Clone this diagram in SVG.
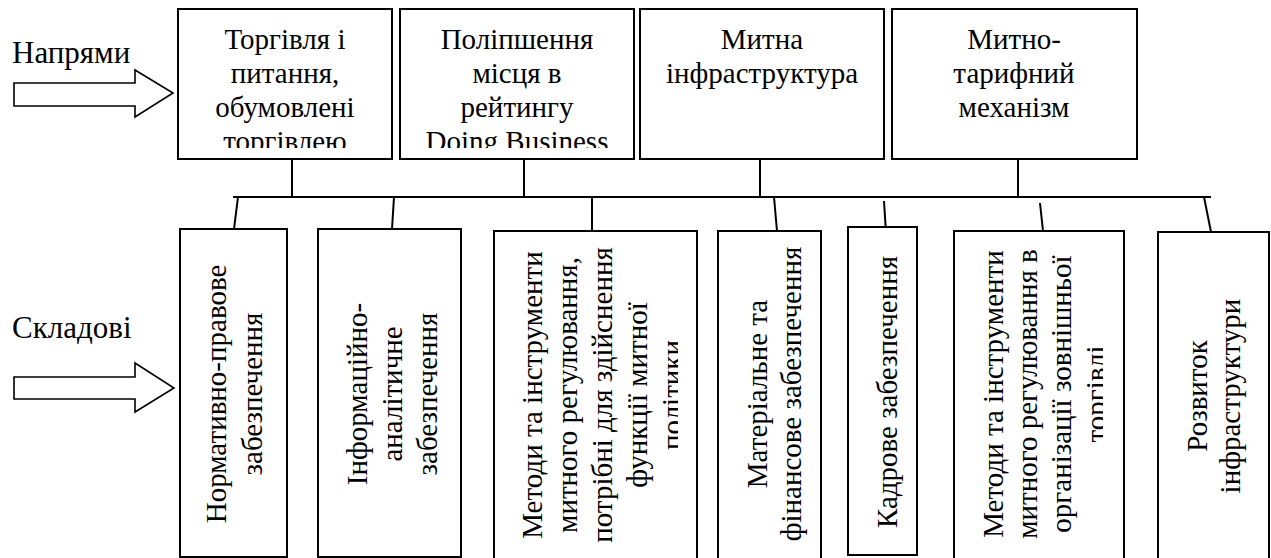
<svg xmlns="http://www.w3.org/2000/svg" width="1271" height="558" viewBox="0 0 1271 558">
<style>
.box{fill:#fff;stroke:#000;stroke-width:2}
.t{font-family:"Liberation Serif","Times New Roman",serif;font-size:29px;fill:#000;text-anchor:middle}
.lbl{font-family:"Liberation Serif","Times New Roman",serif;font-size:31px;fill:#000}
.c{stroke:#000;stroke-width:2;fill:none}
.arr{fill:#fff;stroke:#000;stroke-width:1.6;stroke-linejoin:miter}
</style>
<defs>
<clipPath id="clipTop"><rect x="0" y="0" width="1271" height="148"/></clipPath>
<clipPath id="clipB3"><rect x="494" y="231" width="184" height="330"/></clipPath>
<clipPath id="clipB6"><rect x="954" y="231" width="149" height="330"/></clipPath>
</defs>
<rect width="1271" height="558" fill="#fff"/>

<g id="label-napriamy">
<text class="lbl" x="12" y="63">Напрями</text>
<polygon class="arr" points="14,83 135,83 135,70 173,93 135,117 135,106 14,106"/>
</g>
<g id="label-skladovi">
<text class="lbl" x="12" y="338">Складові</text>
<polygon class="arr" points="14,377 135,377 135,363 174,388 135,412 135,399 14,399"/>
</g>

<g id="connectors">
<line class="c" x1="292" y1="159" x2="292" y2="197"/>
<line class="c" x1="524" y1="159" x2="524" y2="197"/>
<line class="c" x1="760" y1="159" x2="760" y2="197"/>
<line class="c" x1="1018" y1="159" x2="1018" y2="197"/>
<line class="c" x1="233" y1="197" x2="1211" y2="197"/>
<line class="c" x1="238" y1="197" x2="234" y2="229"/>
<line class="c" x1="394" y1="197" x2="392" y2="229"/>
<line class="c" x1="592" y1="197" x2="592" y2="232"/>
<line class="c" x1="774" y1="197" x2="777" y2="231"/>
<line class="c" x1="884" y1="201" x2="886" y2="233"/>
<line class="c" x1="1040" y1="203" x2="1043" y2="231"/>
<line class="c" x1="1204" y1="197" x2="1211" y2="232"/>
</g>

<g id="top1">
<rect class="box" x="178" y="9" width="214" height="150"/>
<g clip-path="url(#clipTop)">
<text class="t" x="285" y="49">Торгівля і</text>
<text class="t" x="285" y="83">питання,</text>
<text class="t" x="285" y="117">обумовлені</text>
<text class="t" x="285" y="151">торгівлею</text>
</g>
</g>
<g id="top2">
<rect class="box" x="400" y="9" width="234" height="150"/>
<g clip-path="url(#clipTop)">
<text class="t" x="517" y="49">Поліпшення</text>
<text class="t" x="517" y="83">місця в</text>
<text class="t" x="517" y="117">рейтингу</text>
<text class="t" x="517" y="151">Doing Business</text>
</g>
</g>
<g id="top3">
<rect class="box" x="640" y="9" width="244" height="150"/>
<text class="t" x="762" y="49">Митна</text>
<text class="t" x="762" y="83">інфраструктура</text>
</g>
<g id="top4">
<rect class="box" x="892" y="9" width="245" height="150"/>
<text class="t" x="1014" y="49">Митно-</text>
<text class="t" x="1014" y="83">тарифний</text>
<text class="t" x="1014" y="117">механізм</text>
</g>

<g id="b1">
<rect class="box" x="180" y="229" width="107" height="328"/>
<text class="t" transform="translate(226,394) rotate(-90)">Нормативно-правове</text>
<text class="t" transform="translate(262,394) rotate(-90)">забезпечення</text>
</g>
<g id="b2">
<rect class="box" x="318" y="229" width="143" height="328"/>
<text class="t" transform="translate(367,394) rotate(-90)">Інформаційно-</text>
<text class="t" transform="translate(402,394) rotate(-90)">аналітичне</text>
<text class="t" transform="translate(437,394) rotate(-90)">забезпечення</text>
</g>
<g id="b3">
<rect class="box" x="494" y="231" width="203" height="330"/>
<g clip-path="url(#clipB3)">
<text class="t" transform="translate(542,395) rotate(-90)">Методи та інструменти</text>
<text class="t" transform="translate(577,395) rotate(-90)">митного регулювання,</text>
<text class="t" transform="translate(612,395) rotate(-90)">потрібні для здійснення</text>
<text class="t" transform="translate(647,395) rotate(-90)">функції митної</text>
<text class="t" transform="translate(682,395) rotate(-90)">політики</text>
</g>
</g>
<g id="b4">
<rect class="box" x="718" y="231" width="103" height="330"/>
<text class="t" transform="translate(767,394) rotate(-90)">Матеріальне та</text>
<text class="t" transform="translate(801,394) rotate(-90)">фінансове забезпечення</text>
</g>
<g id="b5">
<rect class="box" x="848" y="227" width="69" height="328"/>
<text class="t" transform="translate(897,392) rotate(-90)">Кадрове забезпечення</text>
</g>
<g id="b6">
<rect class="box" x="954" y="231" width="170" height="330"/>
<g clip-path="url(#clipB6)">
<text class="t" transform="translate(1003,394) rotate(-90)">Методи та інструменти</text>
<text class="t" transform="translate(1037,394) rotate(-90)">митного регулювання в</text>
<text class="t" transform="translate(1071,394) rotate(-90)">організації зовнішньої</text>
<text class="t" transform="translate(1106,394) rotate(-90)">торгівлі</text>
</g>
</g>
<g id="b7">
<rect class="box" x="1158" y="232" width="111" height="330"/>
<text class="t" transform="translate(1207,396) rotate(-90)">Розвиток</text>
<text class="t" transform="translate(1240,396) rotate(-90)">інфраструктури</text>
</g>
</svg>
